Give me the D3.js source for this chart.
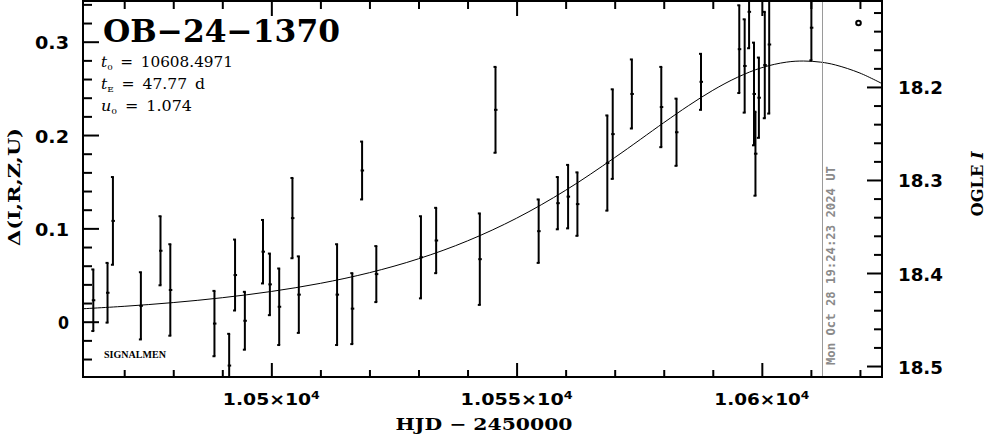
<!DOCTYPE html>
<html><head><meta charset="utf-8">
<script src="https://cdn.jsdelivr.net/npm/d3@7"></script>
<style>html,body{margin:0;padding:0;background:#fff;}svg{display:block;}</style>
</head><body>
<svg id="chart" width="986" height="434"></svg>
<script>
// ---- data ----
const hjd = [10463.7, 10466.6, 10467.7, 10473.4, 10477.4, 10479.4, 10488.4, 10491.4, 10492.6, 10494.6,
             10498.3, 10499.7, 10501.6, 10504.3, 10505.6, 10513.4, 10516.5, 10518.5, 10521.4, 10530.5,
             10533.6, 10542.5, 10545.7, 10554.5, 10558.4, 10560.5, 10562.4, 10568.5, 10569.6, 10573.5,
             10579.5, 10582.6, 10587.6, 10595.4, 10596.5, 10597.4, 10598.4, 10598.7, 10599.4, 10600.6,
             10601.5, 10610.1];
const delta = [0.023, 0.031, 0.108, 0.017, 0.076, 0.034, -0.002, -0.047, 0.050, 0.001,
               0.075, 0.040, 0.016, 0.111, 0.029, 0.029, 0.014, 0.162, 0.051, 0.069,
               0.087, 0.067, 0.227, 0.097, 0.127, 0.134, 0.126, 0.170, 0.201, 0.244,
               0.230, 0.203, 0.257, 0.292, 0.274, 0.332, 0.244, 0.180, 0.240, 0.275,
               0.297, 0.315];
const deltaErr = [0.033, 0.032, 0.047, 0.036, 0.037, 0.049, 0.035, 0.034, 0.038, 0.031,
                  0.034, 0.033, 0.041, 0.043, 0.041, 0.054, 0.038, 0.031, 0.030, 0.044,
                  0.035, 0.049, 0.046, 0.034, 0.028, 0.034, 0.034, 0.051, 0.048, 0.037,
                  0.043, 0.036, 0.030, 0.047, 0.050, 0.039, 0.055, 0.045, 0.043, 0.057,
                  0.074, 0.035];
// model curve samples
const modelT = [10460, 10470, 10480, 10490, 10500, 10510, 10520, 10530, 10540, 10550, 10560,
                10570, 10580, 10585, 10590, 10595, 10600, 10605, 10608.5, 10612, 10615, 10620, 10625];
const modelDelta = [0.0134, 0.0165, 0.0205, 0.0257, 0.0324, 0.0411, 0.0525, 0.0674, 0.0866, 0.1109, 0.1408,
                    0.1758, 0.2132, 0.2313, 0.2479, 0.2618, 0.2722, 0.2781, 0.2793, 0.2781, 0.2751, 0.2664, 0.2538];
const xMajorTicks = [10500, 10550, 10600];
const xTickMantissa = ["1.05", "1.055", "1.06"];
const xTickExponent = "4";
const leftMajorTicks = [0, 0.1, 0.2, 0.3];
const leftTickLabels = ["0", "0.1", "0.2", "0.3"];
const rightMajorTicks = [18.2, 18.3, 18.4, 18.5];
const rightTickLabels = ["18.2", "18.3", "18.4", "18.5"];
const titleText = "OB\u221224\u22121370";
const paramT0 = "10608.4971";
const paramTE = "47.77";
const paramU0 = "1.074";
const markerT = 10612.31;
const markerText = "Mon Oct 28 19:24:23 2024 UT";

// ---- layout ----
const L = 83, R = 882, T = 1, B = 377;
const x = d3.scaleLinear().domain([10461.6, 10624.5]).range([L, R]);
const y = d3.scaleLinear().domain([-0.05925, 0.34361]).range([B, T]);
const yR = d3.scaleLinear().domain([18.5118, 18.1076]).range([B, T]);

const svg = d3.select("#chart");
svg.append("defs").append("clipPath").attr("id", "clip")
  .append("rect").attr("x", L).attr("y", T).attr("width", R - L).attr("height", B - T);

const plot = svg.append("g").attr("clip-path", "url(#clip)");

// model curve
plot.append("path")
  .datum(modelT.map((t, i) => [t, modelDelta[i]]))
  .attr("fill", "none").attr("stroke", "#000").attr("stroke-width", 1)
  .attr("d", d3.line().x(d => x(d[0])).y(d => y(d[1])).curve(d3.curveCatmullRom));

// vertical date line
svg.append("line").attr("x1", Math.round(x(markerT)) + 0.5).attr("x2", Math.round(x(markerT)) + 0.5)
  .attr("y1", T).attr("y2", B).attr("stroke", "#9a9a9a").attr("stroke-width", 1);
svg.append("text")
  .attr("transform", `translate(${x(markerT) + 13},365) rotate(-90)`)
  .attr("font-family", "DejaVu Sans Mono").attr("font-weight", "bold").attr("font-size", 13)
  .attr("fill", "#8a8a8a").attr("textLength", 199).attr("lengthAdjust", "spacingAndGlyphs")
  .text(markerText);

// error bars
const pts = hjd.map((t, i) => ({t, d: delta[i], e: deltaErr[i]}));
const eb = plot.selectAll("g.eb").data(pts).enter().append("g").attr("class", "eb");
eb.append("line")
  .attr("x1", d => x(d.t)).attr("x2", d => x(d.t))
  .attr("y1", d => y(d.d + d.e)).attr("y2", d => y(d.d - d.e))
  .attr("stroke", "#000").attr("stroke-width", 2);
eb.append("line")
  .attr("x1", d => x(d.t) - 2).attr("x2", d => x(d.t) + 1)
  .attr("y1", d => y(d.d + d.e)).attr("y2", d => y(d.d + d.e))
  .attr("stroke", "#000").attr("stroke-width", 2);
eb.append("line")
  .attr("x1", d => x(d.t) - 2).attr("x2", d => x(d.t) + 1)
  .attr("y1", d => y(d.d - d.e)).attr("y2", d => y(d.d - d.e))
  .attr("stroke", "#000").attr("stroke-width", 2);
eb.append("rect")
  .attr("x", d => x(d.t) - 1.5).attr("y", d => y(d.d) - 1)
  .attr("width", 3.5).attr("height", 2).attr("fill", "#000");

// ---- axes (ticks via d3.axis) ----
function styleAxis(g) {
  g.select(".domain").remove();
  g.selectAll(".tick line").attr("stroke", "#000").attr("stroke-width", 2);
  g.selectAll(".tick text").remove();
}
const xMinor = d3.range(10470, 10621, 10).filter(v => !xMajorTicks.includes(v));
svg.append("g").attr("transform", `translate(0,${B})`)
  .call(d3.axisBottom(x).tickValues(xMinor).tickSize(-7)).call(styleAxis);
svg.append("g").attr("transform", `translate(0,${B})`)
  .call(d3.axisBottom(x).tickValues(xMajorTicks).tickSize(-14)).call(styleAxis);
svg.append("g").attr("transform", `translate(0,${T})`)
  .call(d3.axisTop(x).tickValues(xMinor).tickSize(-8)).call(styleAxis);
svg.append("g").attr("transform", `translate(0,${T})`)
  .call(d3.axisTop(x).tickValues(xMajorTicks).tickSize(-15)).call(styleAxis);

const leftMinor = d3.range(-4, 35, 2).map(v => v / 100).filter(v => Math.abs(v * 10 - Math.round(v * 10)) > 1e-6);
svg.append("g").attr("transform", `translate(${L},0)`)
  .call(d3.axisLeft(y).tickValues(leftMinor).tickSize(-9)).call(styleAxis);
svg.append("g").attr("transform", `translate(${L},0)`)
  .call(d3.axisLeft(y).tickValues(leftMajorTicks).tickSize(-16)).call(styleAxis);

const rightMinor = d3.range(1812, 1851, 2).map(v => v / 100).filter(v => Math.abs(v * 10 - Math.round(v * 10)) > 1e-6);
svg.append("g").attr("transform", `translate(${R},0)`)
  .call(d3.axisRight(yR).tickValues(rightMinor).tickSize(-8)).call(styleAxis);
svg.append("g").attr("transform", `translate(${R},0)`)
  .call(d3.axisRight(yR).tickValues(rightMajorTicks).tickSize(-15)).call(styleAxis);

// frame
svg.append("rect").attr("x", L).attr("y", T).attr("width", R - L).attr("height", B - T)
  .attr("fill", "none").attr("stroke", "#000").attr("stroke-width", 2);

// ---- tick labels ----
const tickFont = "DejaVu Sans";
const xLabelWidths = [97, 112, 95];
xMajorTicks.forEach((v, i) => {
  const t = svg.append("text").attr("x", x(v)).attr("y", 405)
    .attr("text-anchor", "middle").attr("font-family", tickFont).attr("font-weight", "bold")
    .attr("font-size", 15).attr("textLength", xLabelWidths[i]).attr("lengthAdjust", "spacingAndGlyphs");
  t.append("tspan").text(xTickMantissa[i] + "\u00d710");
  t.append("tspan").attr("dy", -6).attr("font-size", 10).text(xTickExponent);
});
const leftWidths = [11, 34, 34, 34];
leftMajorTicks.forEach((v, i) => {
  svg.append("text").attr("x", 69).attr("y", y(v) + 7.5).attr("text-anchor", "end")
    .attr("font-family", tickFont).attr("font-weight", "bold").attr("font-size", 18)
    .attr("textLength", leftWidths[i]).attr("lengthAdjust", "spacingAndGlyphs")
    .text(leftTickLabels[i]);
});
rightMajorTicks.forEach((v, i) => {
  svg.append("text").attr("x", 898).attr("y", yR(v) + 7.5).attr("text-anchor", "start")
    .attr("font-family", tickFont).attr("font-weight", "bold").attr("font-size", 18)
    .attr("textLength", 45).attr("lengthAdjust", "spacingAndGlyphs")
    .text(rightTickLabels[i]);
});

// ---- axis titles ----
svg.append("text").attr("x", 484).attr("y", 430).attr("text-anchor", "middle")
  .attr("font-family", "DejaVu Serif").attr("font-weight", "bold").attr("font-size", 17)
  .attr("textLength", 177).attr("lengthAdjust", "spacingAndGlyphs")
  .text("HJD \u2212 2450000");
svg.append("text").attr("transform", "translate(20,187) rotate(-90)").attr("text-anchor", "middle")
  .attr("font-family", "DejaVu Serif").attr("font-weight", "bold").attr("font-size", 17)
  .attr("textLength", 118).attr("lengthAdjust", "spacingAndGlyphs")
  .text("\u0394(I,R,Z,U)");
const ogle = svg.append("text").attr("transform", "translate(983,184) rotate(-90)").attr("text-anchor", "middle")
  .attr("font-family", "DejaVu Serif").attr("font-weight", "bold").attr("font-size", 16)
  .attr("textLength", 65).attr("lengthAdjust", "spacingAndGlyphs");
ogle.append("tspan").text("OGLE ");
ogle.append("tspan").attr("font-style", "italic").text("I");

// ---- title and parameters ----
svg.append("text").attr("x", 103).attr("y", 42)
  .attr("font-family", "DejaVu Serif").attr("font-weight", "bold").attr("font-size", 31)
  .attr("textLength", 237).attr("lengthAdjust", "spacingAndGlyphs")
  .text(titleText);

function paramLine(yy, sym, sub, val, w) {
  const t = svg.append("text").attr("x", 101).attr("y", yy)
    .attr("font-family", "DejaVu Serif").attr("font-size", 14)
    .attr("textLength", w).attr("lengthAdjust", "spacingAndGlyphs");
  t.append("tspan").attr("font-style", "italic").text(sym);
  t.append("tspan").attr("font-size", 8).attr("dy", 3).text(sub);
  t.append("tspan").attr("dy", -3).text("\u2002=\u2002" + val);
}
paramLine(67, "t", "0", paramT0, 132);
paramLine(89, "t", "E", paramTE + "\u2002d", 104);
paramLine(111, "u", "0", paramU0, 91);

svg.append("text").attr("x", 104).attr("y", 358)
  .attr("font-family", "Liberation Serif").attr("font-weight", "bold").attr("font-size", 10.5)
  .attr("textLength", 62).attr("lengthAdjust", "spacingAndGlyphs")
  .text("SIGNALMEN");

// small marker at top right
svg.append("circle").attr("cx", 858.5).attr("cy", 23).attr("r", 2.3)
  .attr("fill", "none").attr("stroke", "#000").attr("stroke-width", 2);
</script>
</body></html>
